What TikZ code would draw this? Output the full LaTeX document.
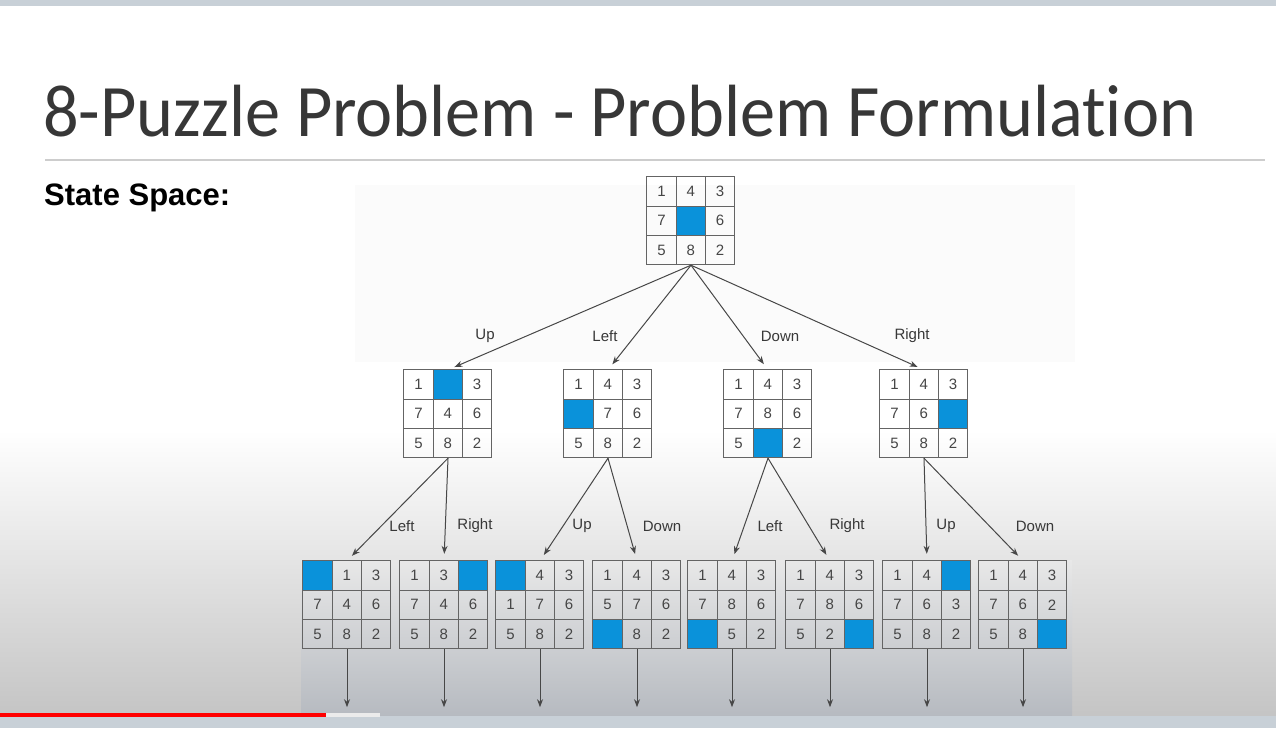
\documentclass[tikz,border=0pt]{standalone}
\usepackage{fontspec}
\setmainfont{Liberation Sans}
\newfontfamily\titlefont[Ligatures=NoCommon]{Carlito}
\usetikzlibrary{arrows.meta}
\definecolor{tileblue}{RGB}{10,146,218}
\definecolor{gridgray}{RGB}{100,100,100}
\definecolor{numgray}{RGB}{70,70,70}
\definecolor{rulegray}{RGB}{205,205,205}
\definecolor{bandgray}{RGB}{200,208,215}
\definecolor{titlegray}{RGB}{55,55,55}
\definecolor{regiongray}{RGB}{182,186,192}
\tikzset{%
    >={Stealth[length=8pt,width=6pt]}, % small filled heads
    cell/.style={draw=gridgray,line width=1.1pt,minimum size=29.33pt,
      inner sep=0pt,text=numgray,font=\fontsize{15}{15}\selectfont},%
    board/.style={minimum size=88pt,inner sep=0pt},%
    move/.style={->,draw=black!72,line width=1pt,shorten >=7pt},%
    lbl/.style={inner sep=0pt,text=black!78,font=\fontsize{15}{15}\selectfont}%
    }
% one 3x3 board, b marks the empty tile
\newcommand{\puzzle}[3]{%
    \node[board] (#1) at (#2) {};
    \foreach \v [count=\k from 0] in {#3}{%
      \pgfmathtruncatemacro{\prow}{div(\k,3)}%
      \pgfmathtruncatemacro{\pcol}{mod(\k,3)}%
      \if\v b
        \node[cell,fill=tileblue] (#1-\k) at
          ([shift={(\pcol*29.33+14.67,\prow*29.33+14.67)}]#1.north west) {};
      \else
        \node[cell] (#1-\k) at
          ([shift={(\pcol*29.33+14.67,\prow*29.33+14.67)}]#1.north west) {\v};
      \fi
    }%
}

\begin{document}
\begin{tikzpicture}[x=1pt,y=-1pt]
    % slide background
    \fill[white] (0,0) rectangle (1276,728);
    \shade[top color=white,bottom color=black!23] (0,430) rectangle (1276,716);
    \fill[black!1.5] (355,185) rectangle (1075,362);
    \shade[top color=black!9,bottom color=regiongray] (301,560) rectangle (1072,716);
    \fill[bandgray] (0,0) rectangle (1276,6);
    \fill[bandgray] (0,716) rectangle (1276,728);
    \fill[red] (0,713) rectangle (326,717);
    \fill[black!8] (326,713) rectangle (380,717);

    \node[anchor=base west,inner sep=0pt,text=titlegray,xscale=0.95,
      font=\titlefont\fontsize{74}{74}\selectfont] (title) at (43,136)
      {8-Puzzle Problem - Problem Formulation};
    \draw[rulegray,line width=2pt] (45,160) -- (1265,160);
    \node[anchor=base west,inner sep=0pt,
      font=\bfseries\fontsize{31}{31}\selectfont] (space) at (44,205) {State Space:};

    % start state
    \puzzle{root}{691,221}{1,4,3,7,b,6,5,8,2}
    % first moves
    \puzzle{u}{448,414}{1,b,3,7,4,6,5,8,2}
    \puzzle{l}{608,414}{1,4,3,b,7,6,5,8,2}
    \puzzle{d}{768,414}{1,4,3,7,8,6,5,b,2}
    \puzzle{r}{924,414}{1,4,3,7,6,b,5,8,2}
    % second moves
    \puzzle{ul}{347,605}{b,1,3,7,4,6,5,8,2}
    \puzzle{ur}{444,605}{1,3,b,7,4,6,5,8,2}
    \puzzle{lu}{540,605}{b,4,3,1,7,6,5,8,2}
    \puzzle{ld}{637,605}{1,4,3,5,7,6,b,8,2}
    \puzzle{dl}{732,605}{1,4,3,7,8,6,b,5,2}
    \puzzle{dr}{830,605}{1,4,3,7,8,6,5,2,b}
    \puzzle{ru}{927,605}{1,4,b,7,6,3,5,8,2}
    \puzzle{rd}{1023,605}{1,4,3,7,6,2,5,8,b}

    \draw[move] (root.south) -- (u.north);
    \draw[move] (root.south) -- (l.north);
    \draw[move] (root.south) -- (d.north);
    \draw[move] (root.south) -- (r.north);
    \node[lbl] (m1) at (485,336) {Up};
    \node[lbl] (m2) at (605,336) {Left};
    \node[lbl] (m3) at (780,336) {Down};
    \node[lbl] (m4) at (912,336) {Right};

    \draw[move] (u.south) -- (ul.north);
    \draw[move] (u.south) -- (ur.north);
    \draw[move] (l.south) -- (lu.north);
    \draw[move] (l.south) -- (ld.north);
    \draw[move] (d.south) -- (dl.north);
    \draw[move] (d.south) -- (dr.north);
    \draw[move] (r.south) -- (ru.north);
    \draw[move] (r.south) -- (rd.north);
    \node[lbl] (m5) at (402,526) {Left};
    \node[lbl] (m6) at (475,526) {Right};
    \node[lbl] (m7) at (582,526) {Up};
    \node[lbl] (m8) at (662,526) {Down};
    \node[lbl] (m9) at (770,526) {Left};
    \node[lbl] (m10) at (847,526) {Right};
    \node[lbl] (m11) at (946,526) {Up};
    \node[lbl] (m12) at (1035,526) {Down};

    % further moves below
    \foreach \n in {ul,ur,lu,ld,dl,dr,ru,rd}{
      \coordinate (\n-next) at ([yshift=-58pt]\n.south);
      \draw[move,shorten >=0pt] (\n.south) -- (\n-next);
    }
\end{tikzpicture}
\end{document}
